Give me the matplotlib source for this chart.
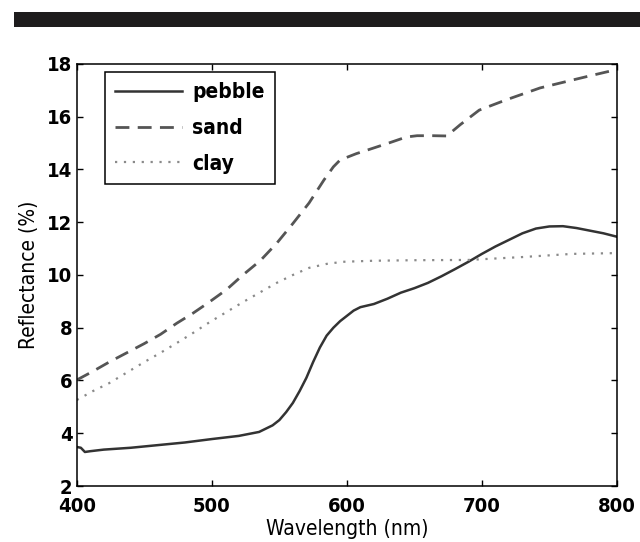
import matplotlib.pyplot as plt
from matplotlib.patches import Rectangle
from matplotlib import font_manager

# valores
wl_pebble = [400, 403, 406, 410, 420, 440, 460, 480, 500, 520, 535, 545, 550, 555, 560,
             565, 570, 575, 580, 585, 590, 595, 600, 605, 610, 620, 630, 640, 650, 660,
             670, 680, 690, 700, 710, 720, 730, 740, 750, 760, 770, 780, 790, 800]
pebble = [3.48, 3.45, 3.29, 3.32, 3.38, 3.45, 3.55, 3.65, 3.78, 3.90, 4.05, 4.30, 4.50,
          4.80, 5.15, 5.60, 6.10, 6.70, 7.25, 7.70, 8.00, 8.25, 8.45, 8.65, 8.78, 8.90,
          9.10, 9.33, 9.50, 9.70, 9.95, 10.22, 10.50, 10.80, 11.08, 11.33, 11.58, 11.76,
          11.84, 11.85, 11.78, 11.68, 11.58, 11.45]

wl_sand = [400, 412, 424, 437, 450, 462, 474, 486, 498, 511, 523, 536, 548, 560, 572,
           583, 590, 595, 607, 619, 632, 644, 652, 664, 674, 684, 698, 718, 743, 767,
           780, 795, 800]
sand = [6.02, 6.35, 6.70, 7.05, 7.40, 7.75, 8.17, 8.55, 8.97, 9.45, 10.00, 10.55, 11.20,
        11.95, 12.73, 13.60, 14.10, 14.36, 14.60, 14.80, 15.02, 15.23, 15.28, 15.28,
        15.27, 15.70, 16.25, 16.64, 17.09, 17.39, 17.55, 17.73, 17.80]

wl_clay = [400, 412, 424, 437, 450, 462, 474, 486, 498, 511, 523, 536, 548, 560, 572,
           585, 597, 620, 650, 690, 730, 767, 800]
clay = [5.26, 5.60, 5.90, 6.30, 6.70, 7.05, 7.42, 7.80, 8.20, 8.60, 8.97, 9.35, 9.70,
        10.00, 10.27, 10.42, 10.50, 10.54, 10.56, 10.57, 10.68, 10.80, 10.83]

etiquetas = ["pebble", "sand", "clay"]
x_ticks = [400, 500, 600, 700, 800]
y_ticks = [2, 4, 6, 8, 10, 12, 14, 16, 18]

# buscar una fuente estrecha si hay alguna instalada
fuente = "Liberation Sans"
estrecha = "normal"
for f in font_manager.fontManager.ttflist:
    if "Narrow" in f.name:
        fuente = f.name
        break
    if str(f.stretch) in ("condensed", "semi-condensed", "600", "500") and f.name in ("DejaVu Sans", "Liberation Sans", "Open Sans", "Roboto", "Noto Sans"):
        fuente = f.name
        estrecha = "condensed"
        break
plt.rcParams["font.family"] = [fuente, "DejaVu Sans"]
plt.rcParams["font.stretch"] = estrecha

fig = plt.figure(figsize=(6.4, 5.42), dpi=100)
# barra negra de arriba
fig.patches.append(Rectangle((0.022, 0.950), 0.978, 0.028, transform=fig.transFigure,
                             facecolor="#1e1c1d", edgecolor="none"))

ax = fig.add_axes([0.120, 0.1033, 0.844, 0.7787])

ax.plot(wl_pebble, pebble, color="#333333", lw=1.8, label=etiquetas[0])
ax.plot(wl_sand, sand, color="#555555", lw=2.0, dashes=(5, 3), label=etiquetas[1])
ax.plot(wl_clay, clay, color="#8a8a8a", lw=1.6, dashes=(1, 3), label=etiquetas[2])

ax.set_xlim(400, 800)
ax.set_ylim(2, 18)
ax.set_xticks(x_ticks)
ax.set_yticks(y_ticks)
ax.tick_params(direction="in", top=True, right=True, length=4, width=1,
               labelsize=14.5, pad=3)
ax.tick_params(axis="x", pad=8)
for lab in ax.get_xticklabels() + ax.get_yticklabels():
    lab.set_fontweight("bold")
for s in ax.spines.values():
    s.set_linewidth(1.1)

ax.set_xlabel("Wavelength (nm)", fontsize=15, labelpad=2)
ax.set_ylabel("Reflectance (%)", fontsize=15, labelpad=6)

leg = ax.legend(loc="upper left", bbox_to_anchor=(0.052, 0.981), fancybox=False,
                edgecolor="black", framealpha=1, borderaxespad=0, handlelength=3.2,
                labelspacing=0.75, borderpad=0.5, handletextpad=0.5,
                prop={"size": 15, "weight": "bold"})
leg.get_frame().set_linewidth(1.1)

plt.savefig("out.png", dpi=100)
